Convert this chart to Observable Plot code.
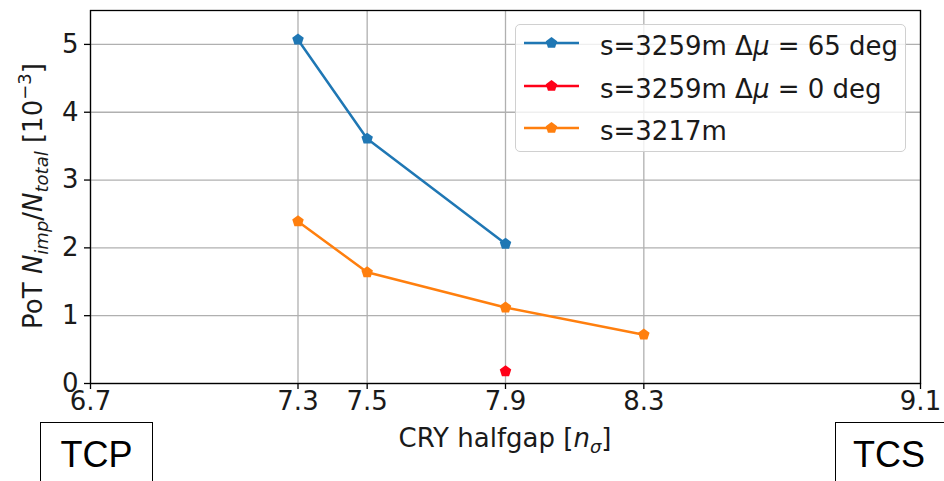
<!DOCTYPE html>
<html><head><meta charset="utf-8">
<script src="https://cdn.jsdelivr.net/npm/d3@7"></script>
<script src="https://cdn.jsdelivr.net/npm/@observablehq/plot@0.6"></script>
<style>
body{margin:0;background:#fff;}
#wrap{position:relative;width:944px;height:481px;overflow:hidden;font-family:"DejaVu Sans";background:#fff;}
#wrap svg{display:block;}
.box{position:absolute;border:1.3px solid #000;background:#fff;font-family:"Liberation Sans";font-size:36px;color:#000;text-align:center;line-height:64px;box-sizing:border-box;}
#legend{position:absolute;left:515px;top:24px;width:391px;height:128px;border:1.3px solid #d0d0d0;border-radius:5px;background:rgba(255,255,255,0.8);box-sizing:border-box;}
.row{position:absolute;left:0;height:40px;font-size:26px;color:#1a1a1a;white-space:nowrap;}
.row svg{position:absolute;left:7px;top:0;}
.row span{position:absolute;left:84px;top:3px;}
</style></head>
<body><div id="wrap"></div>
<script>
const seriesNames = ["s=3259m Δμ = 65 deg", "s=3259m Δμ = 0 deg", "s=3217m"];
const seriesColors = ["#1f77b4", "#ff0018", "#ff7f0e"];
const halfgap65 = [7.3, 7.5, 7.9];
const pot65 = [5.07, 3.61, 2.06];
const halfgap0 = [7.9];
const pot0 = [0.18];
const halfgap3217 = [7.3, 7.5, 7.9, 8.3];
const pot3217 = [2.39, 1.64, 1.12, 0.72];
const xTicks = [6.7, 7.3, 7.5, 7.9, 8.3, 9.1];
const yTicks = [0, 1, 2, 3, 4, 5];

const rows = [];
[[halfgap65, pot65], [halfgap0, pot0], [halfgap3217, pot3217]].forEach(([xs, ys], i) => {
  xs.forEach((x, j) => rows.push({series: seriesNames[i], x, y: ys[j]}));
});

const pentagon = {
  draw(context, size) {
    const r = Math.sqrt(size / Math.PI) * 1.1;
    for (let k = 0; k < 5; k++) {
      const a = -Math.PI / 2 + k * 2 * Math.PI / 5;
      const px = r * Math.cos(a), py = r * Math.sin(a);
      if (k === 0) context.moveTo(px, py); else context.lineTo(px, py);
    }
    context.closePath();
  }
};

const chart = Plot.plot({
  width: 944, height: 481,
  marginLeft: 90, marginRight: 24, marginTop: 10, marginBottom: 98,
  x: {domain: [6.7, 9.1]},
  y: {domain: [0, 5.5]},
  color: {domain: seriesNames, range: seriesColors},
  style: {fontFamily: "DejaVu Sans", fontSize: "26px", background: "#fff", color: "#1a1a1a", overflow: "visible"},
  marks: [
    Plot.gridX(xTicks, {stroke: "#b0b0b0", strokeOpacity: 1, strokeWidth: 1.3}),
    Plot.gridY(yTicks, {stroke: "#b0b0b0", strokeOpacity: 1, strokeWidth: 1.3}),
    Plot.axisX(xTicks, {tickFormat: d => d.toFixed(1), tickSize: 6, tickPadding: 2, label: null, stroke: "#000", strokeWidth: 1.3, fill: "#1a1a1a"}),
    Plot.axisY(yTicks, {tickFormat: d => String(d), tickSize: 6, tickPadding: 6, label: null, stroke: "#000", strokeWidth: 1.3, fill: "#1a1a1a"}),
    Plot.line(rows, {x: "x", y: "y", z: "series", stroke: "series", strokeWidth: 2.5}),
    Plot.dot(rows, {x: "x", y: "y", fill: "series", symbol: pentagon, r: 5.5}),
    Plot.frame({stroke: "#000", strokeWidth: 1.3})
  ]
});

const wrap = document.getElementById("wrap");
wrap.appendChild(chart);

const svg = d3.select(chart);
// y label
const yl = svg.append("text")
  .attr("transform", "translate(42,196) rotate(-90)")
  .attr("text-anchor", "middle")
  .attr("font-size", 26).attr("fill", "#1a1a1a");
yl.append("tspan").text("PoT ");
yl.append("tspan").attr("font-style", "italic").text("N");
yl.append("tspan").attr("font-style", "italic").attr("font-size", 18).attr("dy", 6).text("imp");
yl.append("tspan").attr("dy", -6).text("/");
yl.append("tspan").attr("font-style", "italic").text("N");
yl.append("tspan").attr("font-style", "italic").attr("font-size", 18).attr("dy", 6).text("total");
yl.append("tspan").attr("dy", -6).text(" [10");
yl.append("tspan").attr("font-size", 18).attr("dy", -11).text("−3");
yl.append("tspan").attr("dy", 11).text("]");
// x label
const xl = svg.append("text")
  .attr("x", 505).attr("y", 447)
  .attr("text-anchor", "middle")
  .attr("font-size", 26).attr("fill", "#1a1a1a");
xl.append("tspan").text("CRY halfgap [");
xl.append("tspan").attr("font-style", "italic").text("n");
xl.append("tspan").attr("font-style", "italic").attr("font-size", 18).attr("dy", 6).text("σ");
xl.append("tspan").attr("dy", -6).text("]");

// legend
const legend = document.createElement("div");
legend.id = "legend";
seriesNames.forEach((name, i) => {
  const row = document.createElement("div");
  row.className = "row";
  row.style.top = (3 + i * 42.5) + "px";
  const c = seriesColors[i];
  row.innerHTML = `<svg width="60" height="40"><line x1="1" y1="15" x2="56" y2="15" stroke="${c}" stroke-width="2.5"/>` +
    `<path transform="translate(28.5,15)" d="${d3.symbol(pentagon, Math.PI*30)()}" fill="${c}"/></svg>`;
  const span = document.createElement("span");
  if (name.includes("Δμ")) {
    const [a, b] = name.split("Δμ");
    span.innerHTML = `${a}Δ<i>μ</i>${b}`;
  } else span.textContent = name;
  row.appendChild(span);
  legend.appendChild(row);
});
wrap.appendChild(legend);

// TCP / TCS boxes
[["TCP", 40, 113], ["TCS", 835, 130]].forEach(([t, left, w]) => {
  const b = document.createElement("div");
  b.className = "box";
  b.style.left = left + "px"; b.style.top = "422px";
  b.style.width = w + "px"; b.style.height = "70px";
  b.textContent = t;
  if (t === "TCS") { b.style.textAlign = "left"; b.style.paddingLeft = "17px"; }
  wrap.appendChild(b);
});
</script></body></html>
